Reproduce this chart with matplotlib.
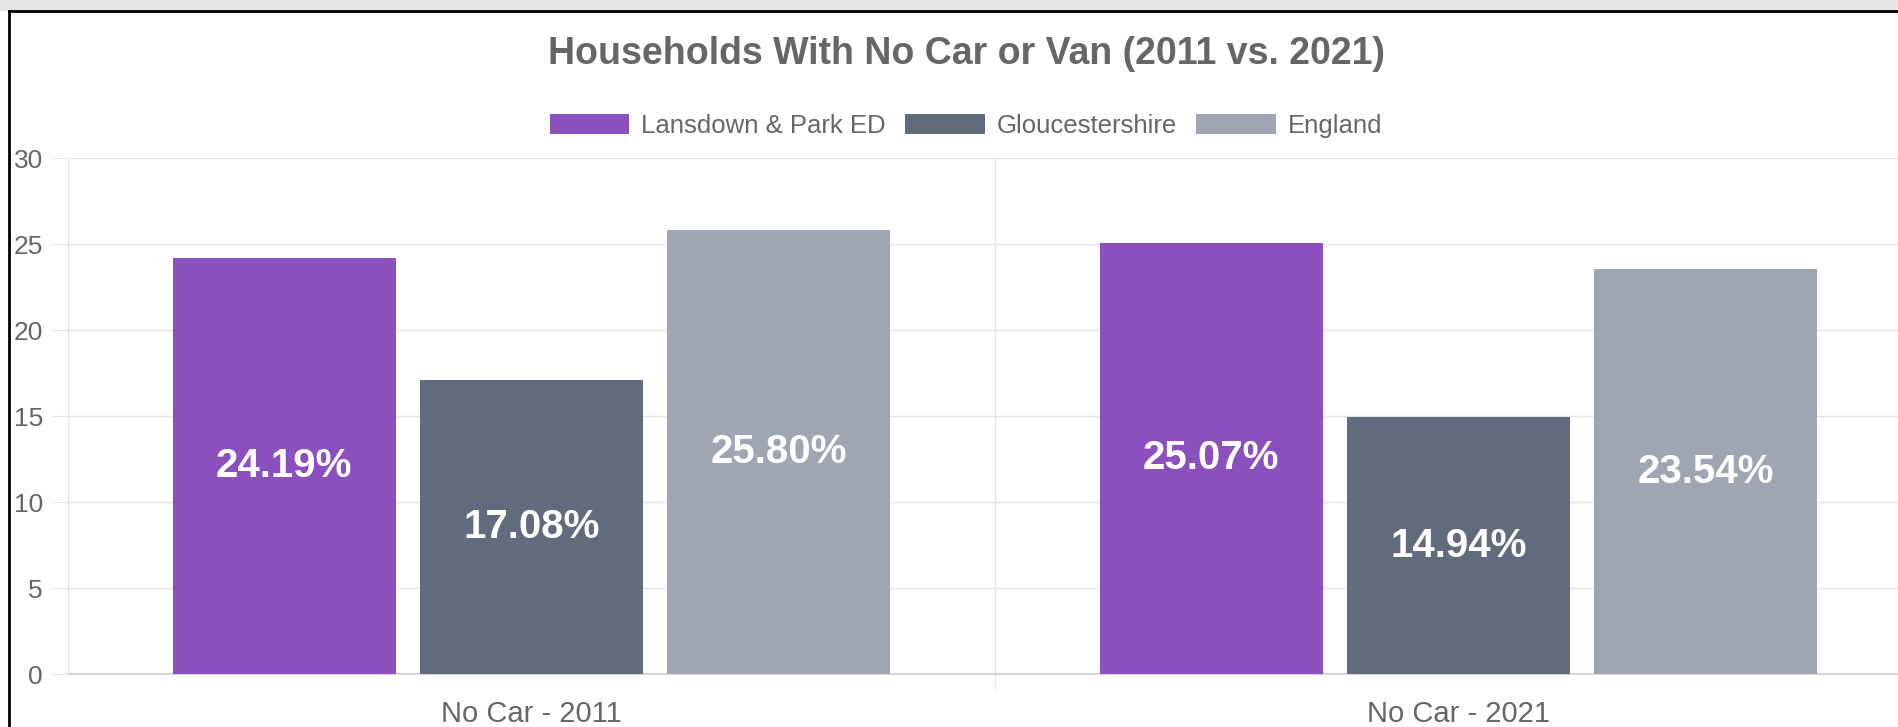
import matplotlib.pyplot as plt
from matplotlib.lines import Line2D
from matplotlib.patches import Rectangle
import numpy as np

plt.rcParams['font.family'] = ['Liberation Sans', 'DejaVu Sans']

categories = ['No Car - 2011', 'No Car - 2021']
series_names = ['Lansdown & Park ED', 'Gloucestershire', 'England']
lansdown = [24.19, 25.07]
gloucestershire = [17.08, 14.94]
england = [25.80, 23.54]
colors = ['#8c4fbe', '#616b7d', '#9fa5b1']
title = 'Households With No Car or Van (2011 vs. 2021)'

W, H = 1898, 727
fig = plt.figure(figsize=(W / 100, H / 100), dpi=100)

# screenshot frame: grey strip on top, black border
fig.add_artist(Rectangle((0, 1 - 10 / H), 1, 10 / H, transform=fig.transFigure,
                         color='#e6e6e6', zorder=0))
fig.add_artist(Line2D([9 / W, 1], [1 - 11 / H, 1 - 11 / H], color='black', lw=2))
fig.add_artist(Line2D([9 / W, 9 / W], [0, 1 - 11 / H], color='black', lw=2))

# plot area (runs past the right edge like the reference)
left, right, top, bottom = 68, 1922, 158, 674
ax = fig.add_axes([left / W, 1 - bottom / H, (right - left) / W, (bottom - top) / H])

x = np.arange(len(categories))
slot = 0.8 / 3
bw = slot * 0.9
grid_c = '#e5e5e5'

for i, (vals, name) in enumerate(zip([lansdown, gloucestershire, england], series_names)):
    bars = ax.bar(x + (i - 1) * slot, vals, width=bw, color=colors[i], label=name, zorder=3)
    for b, v in zip(bars, vals):
        ax.text(b.get_x() + b.get_width() / 2, v / 2, '%.2f%%' % v, ha='center', va='center',
                color='white', fontsize=29, fontweight='bold', zorder=4)

ax.set_xlim(-0.5, 1.5)
ax.set_ylim(0, 30)
ax.set_yticks(np.arange(0, 31, 5))
ax.set_xticks(x)
ax.set_xticklabels(categories)
ax.set_xticks([0.5, 1.5], minor=True)

ax.grid(axis='y', color=grid_c, lw=1, zorder=0)
ax.grid(axis='x', which='minor', color=grid_c, lw=1, zorder=0)
ax.tick_params(axis='y', length=12, color=grid_c, labelsize=19, labelcolor='#666666', pad=6)
ax.tick_params(axis='x', which='major', length=0, labelsize=21, labelcolor='#666666', pad=19)
ax.tick_params(axis='x', which='minor', length=12, color=grid_c)

for s in ['top', 'right']:
    ax.spines[s].set_visible(False)
ax.spines['left'].set_color(grid_c)
ax.spines['bottom'].set_color('#d6d6d6')
ax.spines['bottom'].set_linewidth(1.5)

fig.text(966 / W, 1 - 54 / H, title, ha='center', va='center', fontsize=27,
         fontweight='bold', color='#666666')

fig.legend(loc='center', bbox_to_anchor=(966 / W, 1 - 126 / H), ncol=3, frameon=False,
           fontsize=18.5, labelcolor='#666666', handlelength=3.1, handleheight=0.85,
           handletextpad=0.47, columnspacing=0.74)

fig.savefig('out.png', dpi=100)
